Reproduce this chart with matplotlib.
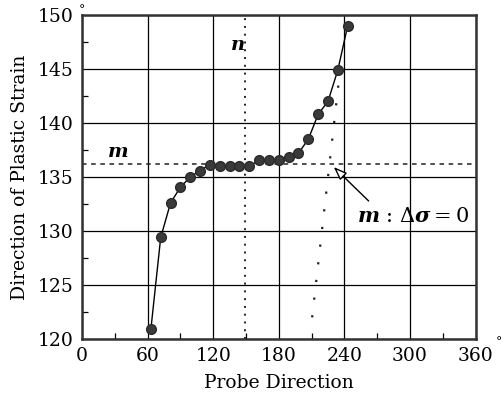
import numpy as np
import matplotlib.pyplot as plt

# data
probe_dir = [63, 72, 81, 90, 99, 108, 117, 126, 135, 144, 153,
             162, 171, 180, 189, 198, 207, 216, 225, 234, 243]
strain_dir = [120.9, 129.4, 132.6, 134.05, 135.0, 135.6, 136.15, 136.05, 136.05, 136.0, 136.0,
              136.55, 136.55, 136.6, 136.85, 137.2, 138.5, 140.8, 142.0, 144.9, 149.0]
m_level = 136.25
n_probe = 149
slope_x = [210.5, 236.5]
slope_y = [122.0, 145.3]
x_ticks = [0, 60, 120, 180, 240, 300, 360]
y_ticks = [120, 125, 130, 135, 140, 145, 150]

plt.rcParams['font.family'] = ['DejaVu Serif']
plt.rcParams['mathtext.fontset'] = 'dejavuserif'

fig = plt.figure(figsize=(5.03, 4.00), dpi=100)
ax = fig.add_axes([0.163, 0.1525, 0.7825, 0.81])

ax.set_xlim(0, 360)
ax.set_ylim(120, 150)
ax.set_xticks(x_ticks)
ax.set_yticks(y_ticks)
ax.set_xticks(np.arange(30, 360, 60), minor=True)
ax.set_yticks(np.arange(122.5, 150, 5), minor=True)
ax.grid(True, which='major', color='black', lw=0.9)
ax.tick_params(which='both', direction='in', labelsize=13.5, top=False, right=False)
ax.tick_params(which='major', length=0, pad=6)
ax.tick_params(which='minor', length=4, width=0.9)
ax.set_axisbelow(True)
for s in ax.spines.values():
    s.set_linewidth(1.8)
    s.set_color('#333333')

# reference lines
ax.axhline(m_level, color='#222222', lw=1.1, ls=(0, (3, 3)), zorder=2)
ax.axvline(n_probe, color='#222222', lw=1.4, ls=(0, (1, 3)), zorder=2)
ax.plot(slope_x, slope_y, color='#222222', lw=1.6, ls=(0, (1, 7)), zorder=2)

# data
ax.plot(probe_dir, strain_dir, '-', color='black', lw=1.0, zorder=3)
ax.plot(probe_dir, strain_dir, 'o', color='#3a3a3a', ms=7, mec='#2a2a2a', zorder=4)

# labels
ax.text(33, 137.3, 'm', fontsize=14, fontweight='bold', fontstyle='italic', ha='center', va='center')
ax.text(143, 147.2, 'n', fontsize=14, fontweight='bold', fontstyle='italic', ha='center', va='center')
ax.annotate('', xy=(228.5, 136.1), xytext=(264, 132.6),
            arrowprops=dict(arrowstyle='-|>,head_length=0.8,head_width=0.3', fc='white', ec='black', lw=1.0))
ax.text(303, 131.3, r'$\boldsymbol{m}$ : $\Delta\boldsymbol{\sigma} = 0$', fontsize=15,
        ha='center', va='center')

ax.set_xlabel('Probe Direction', fontsize=13.5, labelpad=6)
ax.set_ylabel('Direction of Plastic Strain', fontsize=13.5, labelpad=6)

# degree marks on the end labels
ax.text(-0.008, 1.015, '°', transform=ax.transAxes, fontsize=9, ha='left', va='center')
ax.text(1.05, -0.01, '°', transform=ax.transAxes, fontsize=9, ha='left', va='center')

fig.savefig('out.png', dpi=100)
